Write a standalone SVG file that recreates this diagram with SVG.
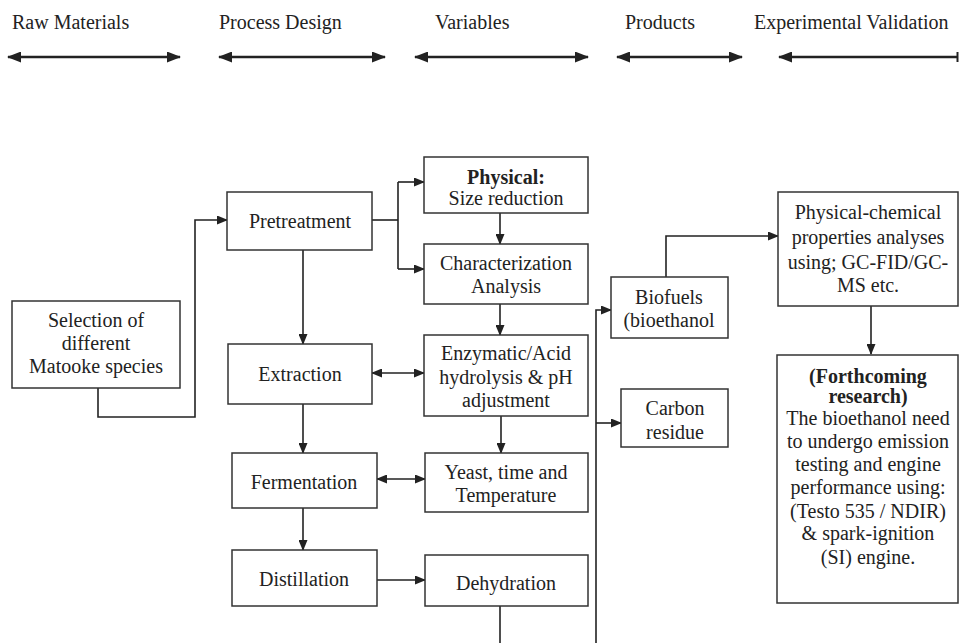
<svg xmlns="http://www.w3.org/2000/svg" width="959" height="643" viewBox="0 0 959 643">
  <style>
    text { font-family: "Liberation Serif", "Times New Roman", serif; font-size: 20px; fill: #222; text-anchor: middle; }
    .hdr { text-anchor: start; }
    .b { font-weight: bold; }
    .box { fill: #fff; stroke: #333; stroke-width: 1.5; }
    .ln { fill: none; stroke: #222; stroke-width: 1.6; }
    .hl { fill: none; stroke: #222; stroke-width: 2.6; }
  </style>
  <defs>
    <marker id="ah" markerUnits="userSpaceOnUse" markerWidth="11" markerHeight="9" refX="10" refY="4.5" orient="auto-start-reverse">
      <path d="M0,0 L11,4.5 L0,9 z" fill="#222"/>
    </marker>
    <marker id="hh" markerUnits="userSpaceOnUse" markerWidth="14" markerHeight="11" refX="13" refY="5.5" orient="auto-start-reverse">
      <path d="M0,0 L14,5.5 L0,11 z" fill="#222"/>
    </marker>
  </defs>

  <!-- column headings -->
  <g id="headings">
    <text class="hdr" x="12" y="29">Raw Materials</text>
    <text class="hdr" x="219" y="29">Process Design</text>
    <text class="hdr" x="435" y="29">Variables</text>
    <text class="hdr" x="625" y="29">Products</text>
    <text class="hdr" x="754" y="29">Experimental Validation</text>
    <line class="hl" x1="8" y1="57" x2="180" y2="57" marker-start="url(#hh)" marker-end="url(#hh)"/>
    <line class="hl" x1="219" y1="57" x2="385" y2="57" marker-start="url(#hh)" marker-end="url(#hh)"/>
    <line class="hl" x1="415" y1="57" x2="588" y2="57" marker-start="url(#hh)" marker-end="url(#hh)"/>
    <line class="hl" x1="617" y1="57" x2="742" y2="57" marker-start="url(#hh)" marker-end="url(#hh)"/>
    <line class="hl" x1="779" y1="57" x2="958" y2="57" marker-start="url(#hh)"/>
    <line x1="957.5" y1="52" x2="957.5" y2="62" stroke="#222" stroke-width="2"/>
  </g>

  <!-- connectors -->
  <g id="connectors">
    <polyline class="ln" points="98,388 98,417 195,417 195,220 227,220" marker-end="url(#ah)"/>
    <polyline class="ln" points="372,220 398,220"/>
    <polyline class="ln" points="398,182 398,269"/>
    <line class="ln" x1="398" y1="182" x2="424" y2="182" marker-end="url(#ah)"/>
    <line class="ln" x1="398" y1="269" x2="424" y2="269" marker-end="url(#ah)"/>
    <line class="ln" x1="303" y1="250" x2="303" y2="344" marker-end="url(#ah)"/>
    <line class="ln" x1="500" y1="213" x2="500" y2="244" marker-end="url(#ah)"/>
    <line class="ln" x1="500" y1="304" x2="500" y2="335" marker-end="url(#ah)"/>
    <line class="ln" x1="372" y1="373" x2="424" y2="373" marker-start="url(#ah)" marker-end="url(#ah)"/>
    <line class="ln" x1="303" y1="404" x2="303" y2="453" marker-end="url(#ah)"/>
    <line class="ln" x1="501" y1="416" x2="501" y2="453" marker-end="url(#ah)"/>
    <line class="ln" x1="377" y1="479" x2="425" y2="479" marker-start="url(#ah)" marker-end="url(#ah)"/>
    <line class="ln" x1="303" y1="508" x2="303" y2="550" marker-end="url(#ah)"/>
    <line class="ln" x1="377" y1="580" x2="425" y2="580" marker-end="url(#ah)"/>
    <line class="ln" x1="500" y1="606" x2="500" y2="643"/>
    <polyline class="ln" points="596,643 596,310 611,310" marker-end="url(#ah)"/>
    <line class="ln" x1="596" y1="423" x2="621" y2="423" marker-end="url(#ah)"/>
    <polyline class="ln" points="666,277 666,236 778,236" marker-end="url(#ah)"/>
    <line class="ln" x1="871" y1="306" x2="871" y2="354" marker-end="url(#ah)"/>
  </g>

  <g id="selection">
    <rect class="box" x="12" y="301" width="168" height="87"/>
    <text x="96" y="327">Selection of</text>
    <text x="96" y="350">different</text>
    <text x="96" y="373">Matooke species</text>
  </g>
  <g id="pretreatment">
    <rect class="box" x="227" y="192" width="145" height="58"/>
    <text x="300" y="228">Pretreatment</text>
  </g>
  <g id="extraction">
    <rect class="box" x="228" y="344" width="144" height="60"/>
    <text x="300" y="381">Extraction</text>
  </g>
  <g id="fermentation">
    <rect class="box" x="232" y="453" width="145" height="55"/>
    <text x="304" y="489">Fermentation</text>
  </g>
  <g id="distillation">
    <rect class="box" x="232" y="550" width="145" height="56"/>
    <text x="304" y="586">Distillation</text>
  </g>
  <g id="physical">
    <rect class="box" x="424" y="157" width="164" height="56"/>
    <text class="b" x="506" y="184">Physical:</text>
    <text x="506" y="205">Size reduction</text>
  </g>
  <g id="characterization">
    <rect class="box" x="424" y="244" width="164" height="60"/>
    <text x="506" y="270">Characterization</text>
    <text x="506" y="293">Analysis</text>
  </g>
  <g id="hydrolysis">
    <rect class="box" x="424" y="335" width="164" height="81"/>
    <text x="506" y="360">Enzymatic/Acid</text>
    <text x="506" y="384">hydrolysis &amp; pH</text>
    <text x="506" y="407">adjustment</text>
  </g>
  <g id="yeast">
    <rect class="box" x="425" y="453" width="163" height="59"/>
    <text x="506" y="479">Yeast, time and</text>
    <text x="506" y="502">Temperature</text>
  </g>
  <g id="dehydration">
    <rect class="box" x="425" y="555" width="163" height="51"/>
    <text x="506" y="590">Dehydration</text>
  </g>
  <g id="biofuels">
    <rect class="box" x="611" y="277" width="117" height="61"/>
    <text x="669" y="304">Biofuels</text>
    <text x="669" y="327">(bioethanol</text>
  </g>
  <g id="carbon">
    <rect class="box" x="621" y="389" width="107" height="58"/>
    <text x="675" y="415">Carbon</text>
    <text x="675" y="439">residue</text>
  </g>
  <g id="physchem">
    <rect class="box" x="778" y="192" width="180" height="114"/>
    <text x="868" y="219">Physical-chemical</text>
    <text x="868" y="244">properties analyses</text>
    <text x="868" y="269">using; GC-FID/GC-</text>
    <text x="868" y="292">MS etc.</text>
  </g>
  <g id="forthcoming">
    <rect class="box" x="777" y="355" width="181" height="248"/>
    <text class="b" x="868" y="383">(Forthcoming</text>
    <text class="b" x="868" y="403">research)</text>
    <text x="868" y="425">The bioethanol need</text>
    <text x="868" y="448">to undergo emission</text>
    <text x="868" y="471">testing and engine</text>
    <text x="868" y="494">performance using:</text>
    <text x="868" y="518">(Testo 535 / NDIR)</text>
    <text x="868" y="540">&amp; spark-ignition</text>
    <text x="868" y="564">(SI) engine.</text>
  </g>
</svg>
